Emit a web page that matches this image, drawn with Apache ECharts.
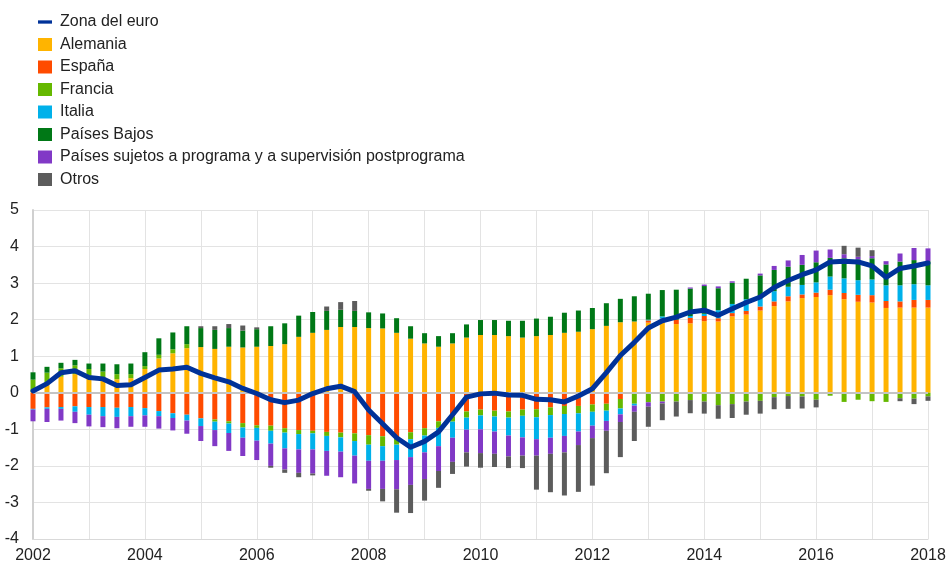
<!DOCTYPE html>
<html>
<head>
<meta charset="utf-8">
<script src="https://cdn.jsdelivr.net/npm/echarts@6/dist/echarts.min.js"></script>
<style>
  html, body { margin: 0; padding: 0; background: #fff; }
  #chart { width: 949px; height: 567px; }
</style>
</head>
<body>
<div id="chart"></div>
<script>
// quarters 2002T1 .. 2018T1
const startYear = 2002
const nQuarters = 65
const quarters = []
for (let i = 0; i < nQuarters; i++) quarters.push((startYear + Math.floor(i / 4)) + 'T' + (i % 4 + 1))

const alemania = [0.03, 0.25, 0.44, 0.51, 0.45, 0.42, 0.37, 0.40, 0.65, 0.94, 1.08, 1.22,
  1.25, 1.20, 1.26, 1.24, 1.26, 1.28, 1.33, 1.53, 1.64, 1.72, 1.80, 1.80,
  1.77, 1.76, 1.64, 1.48, 1.35, 1.26, 1.35, 1.51, 1.58, 1.58, 1.55, 1.51,
  1.55, 1.58, 1.64, 1.67, 1.74, 1.83, 1.93, 1.95, 1.92, 1.95, 1.88, 1.90,
  1.96, 1.95, 2.09, 2.14, 2.25, 2.37, 2.50, 2.59, 2.62, 2.67, 2.56, 2.49,
  2.47, 2.32, 2.33, 2.33, 2.33]
const espana = [-0.44, -0.40, -0.39, -0.37, -0.39, -0.39, -0.41, -0.39, -0.42, -0.50, -0.56, -0.60,
  -0.70, -0.73, -0.78, -0.83, -0.89, -0.90, -0.97, -1.02, -1.04, -1.07, -1.09, -1.11,
  -1.16, -1.19, -1.24, -1.08, -0.97, -0.78, -0.65, -0.51, -0.46, -0.49, -0.51, -0.46,
  -0.45, -0.40, -0.36, -0.36, -0.32, -0.30, -0.17, 0, 0.06, 0.08, 0.12, 0.15,
  0.14, 0.09, 0.09, 0.10, 0.11, 0.13, 0.14, 0.10, 0.12, 0.15, 0.17, 0.19,
  0.20, 0.19, 0.17, 0.21, 0.21]
const francia = [0.33, 0.30, 0.23, 0.24, 0.20, 0.16, 0.14, 0.11, 0.08, 0.10, 0.11, 0.11,
  0, -0.06, -0.06, -0.12, -0.07, -0.14, -0.12, -0.11, -0.07, -0.11, -0.13, -0.21,
  -0.26, -0.27, -0.18, -0.19, -0.20, -0.18, -0.14, -0.17, -0.16, -0.16, -0.17, -0.17,
  -0.22, -0.21, -0.22, -0.20, -0.20, -0.19, -0.26, -0.30, -0.26, -0.24, -0.24, -0.20,
  -0.24, -0.34, -0.31, -0.24, -0.22, -0.12, -0.09, -0.10, -0.19, -0.08, -0.25, -0.19,
  -0.23, -0.25, -0.15, -0.16, -0.10]
const italia = [-0.02, -0.04, -0.05, -0.15, -0.21, -0.25, -0.25, -0.25, -0.20, -0.14, -0.13, -0.16,
  -0.21, -0.23, -0.26, -0.28, -0.35, -0.35, -0.43, -0.42, -0.44, -0.41, -0.39, -0.40,
  -0.44, -0.40, -0.42, -0.49, -0.46, -0.50, -0.44, -0.33, -0.38, -0.41, -0.49, -0.59,
  -0.60, -0.62, -0.60, -0.50, -0.38, -0.28, -0.16, -0.05, 0.02, 0.06, 0, 0.05,
  0.06, 0.22, 0.25, 0.32, 0.27, 0.28, 0.26, 0.26, 0.28, 0.36, 0.40, 0.40,
  0.43, 0.43, 0.44, 0.43, 0.40]
const paisesBajos = [0.20, 0.16, 0.15, 0.15, 0.15, 0.22, 0.27, 0.29, 0.38, 0.45, 0.46, 0.49,
  0.52, 0.52, 0.51, 0.46, 0.48, 0.54, 0.57, 0.58, 0.57, 0.52, 0.47, 0.44,
  0.43, 0.41, 0.40, 0.34, 0.28, 0.29, 0.28, 0.36, 0.41, 0.41, 0.42, 0.46,
  0.48, 0.50, 0.55, 0.58, 0.58, 0.62, 0.64, 0.69, 0.71, 0.72, 0.82, 0.75,
  0.76, 0.60, 0.58, 0.56, 0.58, 0.58, 0.55, 0.55, 0.55, 0.51, 0.55, 0.57,
  0.58, 0.57, 0.65, 0.66, 0.66]
const programa = [-0.32, -0.36, -0.32, -0.31, -0.32, -0.30, -0.31, -0.29, -0.31, -0.34, -0.34, -0.36,
  -0.41, -0.44, -0.49, -0.50, -0.53, -0.61, -0.58, -0.64, -0.66, -0.68, -0.70, -0.76,
  -0.77, -0.77, -0.80, -0.76, -0.73, -0.68, -0.66, -0.62, -0.65, -0.61, -0.57, -0.50,
  -0.45, -0.44, -0.45, -0.37, -0.34, -0.27, -0.21, -0.17, -0.12, -0.05, 0, 0.03,
  0.04, 0.05, 0.04, 0, 0.05, 0.11, 0.17, 0.27, 0.32, 0.23, 0.11, 0.07,
  0.06, 0.09, 0.22, 0.33, 0.35]
const otros = [0, 0, 0, 0, 0, 0, 0, 0, 0, 0, 0, 0,
  0.05, 0.10, 0.11, 0.14, 0.05, -0.05, -0.09, -0.12, -0.05, 0.12, 0.21, 0.27,
  -0.05, -0.34, -0.64, -0.77, -0.59, -0.46, -0.33, -0.39, -0.40, -0.36, -0.32, -0.34,
  -0.93, -1.05, -1.18, -1.28, -1.30, -1.16, -0.96, -0.80, -0.55, -0.46, -0.41, -0.36,
  -0.33, -0.37, -0.38, -0.36, -0.35, -0.33, -0.35, -0.33, -0.21, 0, 0.23, 0.25,
  0.16, 0, -0.08, -0.15, -0.12]
const zonaEuro = [0.05, 0.25, 0.55, 0.60, 0.42, 0.38, 0.20, 0.22, 0.42, 0.62, 0.65, 0.70,
  0.53, 0.41, 0.30, 0.12, -0.02, -0.19, -0.27, -0.20, -0.02, 0.11, 0.18, 0.03,
  -0.47, -0.85, -1.23, -1.49, -1.33, -1.07, -0.60, -0.12, -0.03, -0.01, -0.06, -0.07,
  -0.18, -0.19, -0.25, -0.09, 0.11, 0.55, 1.02, 1.38, 1.77, 1.97, 2.07, 2.21,
  2.26, 2.12, 2.30, 2.47, 2.62, 2.88, 3.07, 3.23, 3.36, 3.58, 3.60, 3.58,
  3.47, 3.16, 3.40, 3.47, 3.55]

const barSeries = [
  { name: 'Alemania', color: '#FFB400', values: alemania },
  { name: 'España', color: '#FF4B00', values: espana },
  { name: 'Francia', color: '#65B800', values: francia },
  { name: 'Italia', color: '#00B1EA', values: italia },
  { name: 'Países Bajos', color: '#007816', values: paisesBajos },
  { name: 'Países sujetos a programa y a supervisión postprograma', color: '#8139C6', values: programa },
  { name: 'Otros', color: '#5C5C5C', values: otros }
]

const font = 'Arial, "Liberation Sans", sans-serif'

const series = barSeries.map(s => ({
  name: s.name,
  type: 'bar',
  stack: 'total',
  barWidth: 5,
  clip: false,
  itemStyle: { color: s.color },
  data: s.values
}))
series[0].markLine = {
  silent: true,
  symbol: 'none',
  label: { show: false },
  lineStyle: { color: '#c4c4c4', width: 2, type: 'solid' },
  data: [{ yAxis: 0 }]
}
series.push({
  name: 'Zona del euro',
  type: 'line',
  symbol: 'none',
  clip: false,
  lineStyle: { color: '#003299', width: 5, cap: 'round', join: 'round' },
  itemStyle: { color: '#003299' },
  data: zonaEuro,
  z: 5
})

const chart = echarts.init(document.getElementById('chart'))
chart.setOption({
  animation: false,
  textStyle: { fontFamily: font },
  grid: { left: 33, right: 21, top: 210, bottom: 28 },
  legend: {
    orient: 'vertical',
    left: 33,
    top: 9,
    itemWidth: 14,
    itemHeight: 13,
    itemGap: 6.5,
    selectedMode: false,
    textStyle: { fontSize: 16, lineHeight: 16, color: '#222', fontFamily: font, padding: [0, 0, 0, 3] },
    data: [
      { name: 'Zona del euro', icon: 'path://M0,0H17V4H0Z', itemStyle: { color: '#003299' } }
    ].concat(barSeries.map(s => ({ name: s.name, icon: 'rect' })))
  },
  xAxis: {
    type: 'category',
    data: quarters,
    boundaryGap: false,
    axisLine: { show: true, onZero: false, lineStyle: { color: '#d9d9d9', width: 1 } },
    axisTick: { show: false },
    axisLabel: {
      margin: 9,
      fontSize: 16,
      color: '#222',
      interval: (idx) => idx % 8 === 0,
      formatter: v => v.slice(0, 4)
    },
    splitLine: { show: true, interval: (idx) => idx % 4 === 0, lineStyle: { color: '#e3e3e3', width: 1 } }
  },
  yAxis: {
    type: 'value',
    min: -4,
    max: 5,
    interval: 1,
    axisLine: { show: true, lineStyle: { color: '#d0d0d0', width: 2 } },
    axisTick: { show: false },
    axisLabel: { margin: 14, fontSize: 16, color: '#222' },
    splitLine: { show: true, lineStyle: { color: '#e3e3e3', width: 1 } }
  },
  series: series
})
</script>
</body>
</html>
